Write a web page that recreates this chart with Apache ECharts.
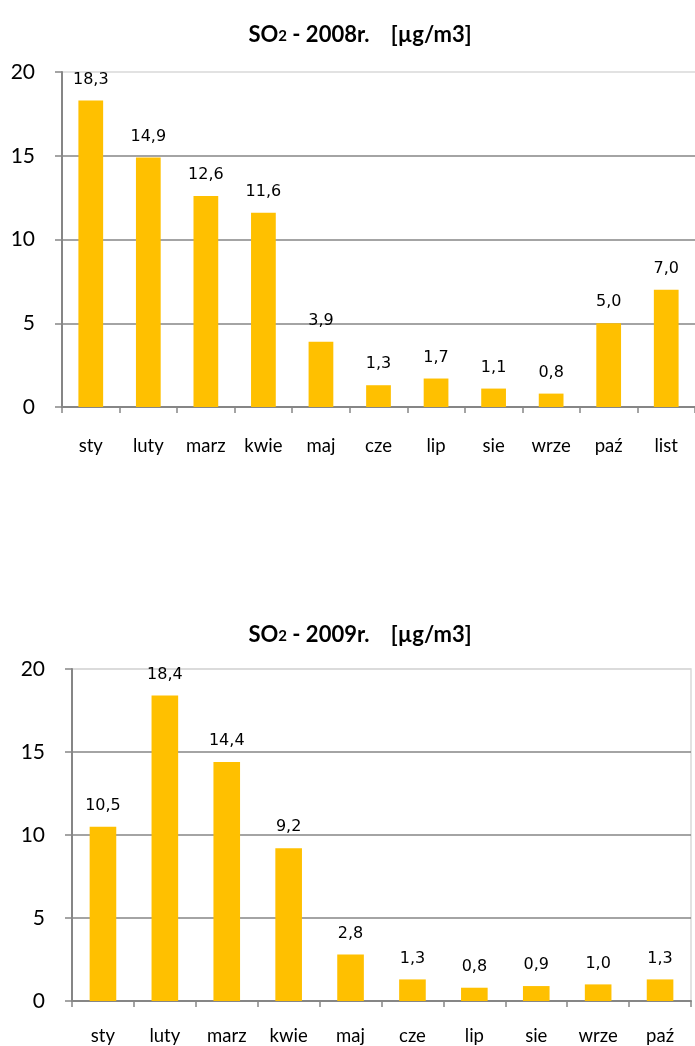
<!DOCTYPE html>
<html>
<head>
<meta charset="utf-8">
<script src="https://cdn.jsdelivr.net/npm/echarts@6/dist/echarts.min.js"></script>
<style>
  html, body { margin: 0; padding: 0; background: #fff; }
  #chart { width: 695px; height: 1046px; }
</style>
</head>
<body>
<div id="chart"></div>
<script>
// Monthly SO2 concentrations [µg/m3]
const months2008 = ['sty', 'luty', 'marz', 'kwie', 'maj', 'cze', 'lip', 'sie', 'wrze', 'paź', 'list'];
const values2008 = [18.3, 14.9, 12.6, 11.6, 3.9, 1.3, 1.7, 1.1, 0.8, 5.0, 7.0];

const months2009 = ['sty', 'luty', 'marz', 'kwie', 'maj', 'cze', 'lip', 'sie', 'wrze', 'paź'];
const values2009 = [10.5, 18.4, 14.4, 9.2, 2.8, 1.3, 0.8, 0.9, 1.0, 1.3];

const yTicks = { min: 0, max: 20, interval: 5 };

const FONT = 'Lato, "Open Sans", sans-serif';
const LABEL_FONT = '"DejaVu Sans", Verdana, sans-serif';
const AXIS = '#868686';
const LIGHT = '#d9d9d9';
const BAR = '#FFC000';

const fmt = v => v.toFixed(1).replace('.', ',');

function titleText(year) {
  return '{a|SO}{b|2}{a| - ' + year + 'r.    [µg/m3]}';
}
const titleRich = {
  a: { fontFamily: FONT, fontWeight: 'bold', fontSize: 22, color: '#000', verticalAlign: 'bottom' },
  b: { fontFamily: FONT, fontWeight: 'bold', fontSize: 15, color: '#000', verticalAlign: 'bottom', padding: [0, 0, 2, 0] }
};

function xAxisCfg(idx, cats, margin) {
  return {
    type: 'category', gridIndex: idx, data: cats,
    axisLine: { show: true, lineStyle: { color: AXIS, width: 2 } },
    axisTick: { show: true, length: 6, interval: 0, lineStyle: { color: AXIS, width: 1.5 } },
    axisLabel: { fontFamily: FONT, fontSize: 18.5, color: '#000', margin: margin, interval: 0 },
    splitLine: { show: false }
  };
}
function yAxisCfg(idx) {
  return {
    type: 'value', gridIndex: idx,
    min: yTicks.min, max: yTicks.max, interval: yTicks.interval,
    axisLine: { show: true, lineStyle: { color: AXIS, width: 2 } },
    axisTick: { show: true, inside: false, length: 7, lineStyle: { color: AXIS, width: 1.5 } },
    axisLabel: { fontFamily: FONT, fontSize: 21, color: '#000', margin: 27 },
    splitLine: { show: true, lineStyle: { color: [AXIS, AXIS, AXIS, AXIS, LIGHT], width: 1.5 } }
  };
}
function barSeries(idx, vals) {
  return {
    type: 'bar', xAxisIndex: idx, yAxisIndex: idx, data: vals,
    barWidth: '43%',
    itemStyle: { color: BAR },
    label: {
      show: true, position: 'top', distance: 13,
      fontFamily: LABEL_FONT, fontSize: 16, color: '#000',
      formatter: p => fmt(p.value)
    }
  };
}

const chart = echarts.init(document.getElementById('chart'), null, { renderer: 'canvas' });
chart.setOption({
  animation: false,
  backgroundColor: '#fff',
  title: [
    { text: titleText(2008), left: 355, top: 19, textAlign: 'center', textStyle: { rich: titleRich } },
    { text: titleText(2009), left: 355, top: 619, textAlign: 'center', textStyle: { rich: titleRich } }
  ],
  grid: [
    { left: 62, top: 72, width: 634, height: 335, show: false },
    { left: 72, top: 669, width: 619, height: 334, show: true, borderColor: LIGHT, borderWidth: 1.5, backgroundColor: 'transparent' }
  ],
  xAxis: [xAxisCfg(0, months2008, 30), xAxisCfg(1, months2009, 26)],
  yAxis: [yAxisCfg(0), yAxisCfg(1)],
  series: [barSeries(0, values2008), barSeries(1, values2009)]
});
</script>
</body>
</html>
